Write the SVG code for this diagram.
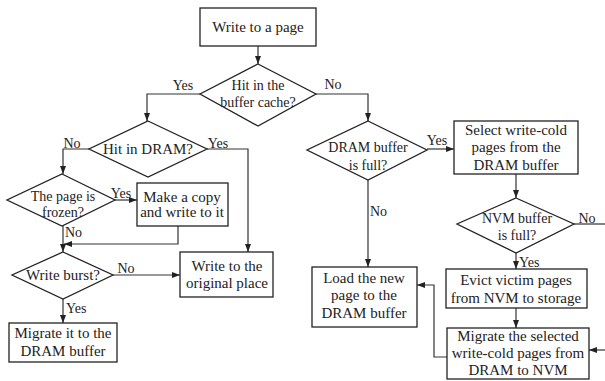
<svg xmlns="http://www.w3.org/2000/svg" width="605" height="381" viewBox="0 0 605 381" font-family="'Liberation Serif', 'Times New Roman', Times, serif">
<defs>
<marker id="ah" markerWidth="8" markerHeight="6" refX="8" refY="3" orient="auto" markerUnits="userSpaceOnUse">
<path d="M0,0 L8,3 L0,6 Z" fill="#222"/>
</marker>
<style>
.box{fill:#fff;stroke:#222;stroke-width:1.3}
.c{fill:none;stroke:#333;stroke-width:1.2}
.a{marker-end:url(#ah)}
text{font-family:'Liberation Serif','Times New Roman',Times,serif;font-size:15px;fill:#222}
.m{text-anchor:middle}
.s{font-size:14px}
</style>
</defs>
<rect width="605" height="381" fill="#fff"/>
<g id="connectors">
<path class="c a" d="M258,46 V64"/>
<path class="c a" d="M200,94 H147 V121"/>
<path class="c a" d="M316,94 H368 V121"/>
<path class="c a" d="M89,149 H63 V174"/>
<path class="c a" d="M207,149 H248 V252"/>
<path class="c a" d="M115,200 H137"/>
<path class="c a" d="M178,226 V244 H64"/>
<path class="c a" d="M63,226 V252"/>
<path class="c a" d="M113,275 H180"/>
<path class="c a" d="M63,299 V323"/>
<path class="c a" d="M427,149 H454"/>
<path class="c a" d="M368,180 V267"/>
<path class="c a" d="M516,174 V198"/>
<path class="c" d="M574,224 H605"/>
<path class="c a" d="M516,253 V269"/>
<path class="c a" d="M516,308 V328"/>
<path class="c a" d="M605,350 H589"/>
<path class="c a" d="M447,357 H434 V285 H417"/>
</g>
<g id="labels">
<text class="m s" x="183" y="90">Yes</text>
<text class="m s" x="333" y="89">No</text>
<text class="m s" x="72" y="148">No</text>
<text class="m s" x="218" y="148">Yes</text>
<text class="m s" x="121" y="198">Yes</text>
<text class="s" x="65" y="237">No</text>
<text class="m s" x="126" y="273">No</text>
<text class="s" x="66" y="313">Yes</text>
<text class="m s" x="437" y="145">Yes</text>
<text class="s" x="370" y="216">No</text>
<text class="m s" x="587" y="223">No</text>
<text class="s" x="519" y="267">Yes</text>
</g>
<g id="n-start">
<rect class="box" x="200" y="8" width="116" height="38"/>
<text class="m" x="258" y="32">Write to a page</text>
</g>
<g id="n-hitcache">
<polygon class="box" points="258,64 316,94 258,126 200,94"/>
<text class="m s" x="258" y="90">Hit in the</text>
<text class="m s" x="258" y="107">buffer cache?</text>
</g>
<g id="n-hitdram">
<polygon class="box" points="148,121 207,149 148,177 89,149"/>
<text class="m" x="148" y="154">Hit in DRAM?</text>
</g>
<g id="n-frozen">
<polygon class="box" points="62,174 115,200 62,226 7,200"/>
<text class="m s" x="63" y="201">The page is</text>
<text class="m s" x="63" y="217">frozen?</text>
</g>
<g id="n-copy">
<rect class="box" x="137" y="183" width="91" height="43"/>
<text class="m" x="182" y="202">Make a copy</text>
<text class="m" x="182" y="217">and write to it</text>
</g>
<g id="n-burst">
<polygon class="box" points="63,252 113,275 63,299 12,275"/>
<text class="m" x="63" y="280">Write burst?</text>
</g>
<g id="n-original">
<rect class="box" x="180" y="252" width="93" height="45"/>
<text class="m" x="227" y="271">Write to the</text>
<text class="m" x="227" y="288">original place</text>
</g>
<g id="n-migrate-dram">
<rect class="box" x="9" y="323" width="108" height="39"/>
<text class="m" x="63" y="338">Migrate it to the</text>
<text class="m" x="63" y="356">DRAM buffer</text>
</g>
<g id="n-dramfull">
<polygon class="box" points="368,121 427,150 368,180 307,150"/>
<text class="m s" x="368" y="152">DRAM buffer</text>
<text class="m s" x="368" y="170">is full?</text>
</g>
<g id="n-select">
<rect class="box" x="454" y="121" width="124" height="53"/>
<text class="m" x="516" y="135">Select write-cold</text>
<text class="m" x="516" y="152">pages from the</text>
<text class="m" x="516" y="170">DRAM buffer</text>
</g>
<g id="n-nvmfull">
<polygon class="box" points="516,198 574,224 516,253 457,224"/>
<text class="m s" x="517" y="223">NVM buffer</text>
<text class="m s" x="517" y="240">is full?</text>
</g>
<g id="n-evict">
<rect class="box" x="446" y="269" width="141" height="39"/>
<text class="m" x="516" y="285">Evict victim pages</text>
<text class="m" x="516" y="303">from NVM to storage</text>
</g>
<g id="n-migrate-nvm">
<rect class="box" x="447" y="328" width="142" height="51"/>
<text class="m" x="518" y="341">Migrate the selected</text>
<text class="m" x="518" y="358">write-cold pages from</text>
<text class="m" x="518" y="375">DRAM to NVM</text>
</g>
<g id="n-load">
<rect class="box" x="312" y="267" width="105" height="60"/>
<text class="m" x="364" y="283">Load the new</text>
<text class="m" x="364" y="300">page to the</text>
<text class="m" x="364" y="318">DRAM buffer</text>
</g>
</svg>
